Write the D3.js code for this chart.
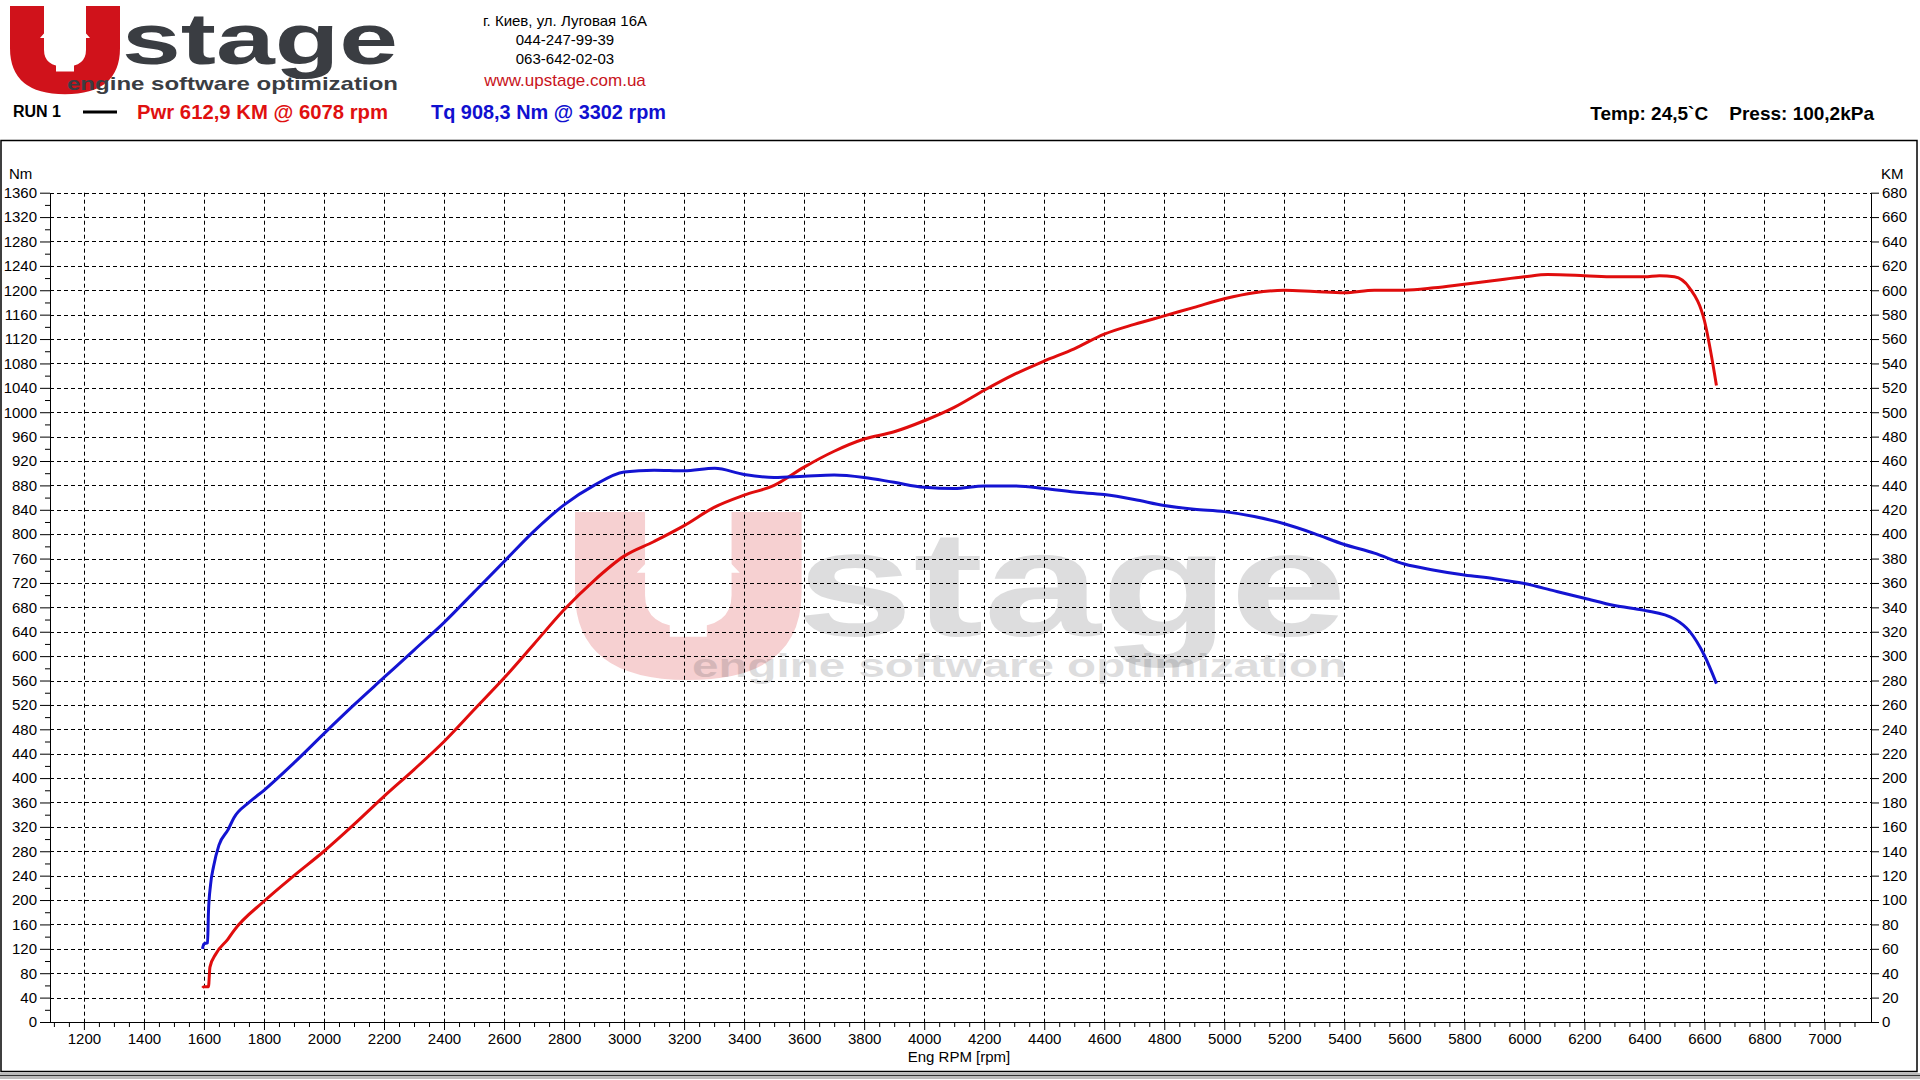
<!DOCTYPE html>
<html><head><meta charset="utf-8">
<script src="https://cdn.jsdelivr.net/npm/d3@7"></script>
<style>body{margin:0;background:#fff}svg{display:block}text{font-family:"Liberation Sans",Arial,sans-serif}</style>
</head><body>
<script>
const rpmTicks = d3.range(1200, 7001, 200);
const nmTicks = d3.range(0, 1361, 40);
const kmTicks = d3.range(0, 681, 20);
const torqueRpm = [1595,1600,1612,1615,1622,1632,1650,1680,1700,1750,1800,1900,2000,2100,2200,2300,2400,2500,2600,2700,2800,2900,3000,3100,3200,3302,3400,3500,3600,3700,3800,3900,4000,4100,4200,4300,4400,4500,4600,4700,4800,4900,5000,5100,5200,5300,5400,5500,5600,5700,5800,5900,6000,6100,6200,6300,6400,6500,6550,6600,6640];
const torqueNm = [120,128,130,180,225,255,290,315,335,360,380,425,473,520,565,610,655,705,755,805,848,880,902,905,904,908,898,893,895,897,893,885,877,875,879,879,875,869,865,857,847,841,837,829,817,801,783,769,751,741,733,727,719,707,695,683,675,661,641,601,555];
const powerRpm = [1595,1600,1615,1620,1640,1680,1700,1800,1900,2000,2100,2200,2300,2400,2500,2600,2700,2800,2900,3000,3100,3200,3300,3400,3500,3600,3700,3800,3900,4000,4100,4200,4300,4400,4500,4600,4700,4800,4900,5000,5100,5200,5300,5400,5500,5600,5700,5800,5900,6000,6078,6200,6300,6400,6450,6500,6550,6600,6640];
const powerKm = [28,29,29,45,56,68,75,99,120,140,162,185,207,230,256,282,310,338,362,382,394,407,422,432,440,455,468,478,484,493,504,518,531,542,552,564,572,579,586,593,598,600,599,598,600,600,602,605,608,611,612.9,612,611,611,612,611,602,575,522];
const addr = ["г. Киев, ул. Луговая 16А","044-247-99-39","063-642-02-03"];

const svg = d3.select("body").append("svg").attr("width",1920).attr("height",1080);
const L=50,R=1871,T=192.7,B=1022;
const x = d3.scaleLinear().domain([1087,7155]).range([L,R]);
const yN = d3.scaleLinear().domain([0,1360]).range([B,T]);
const yK = d3.scaleLinear().domain([0,680]).range([B,T]);

svg.append("rect").attr("x",1).attr("y",140.5).attr("width",1916).attr("height",931).attr("fill","none").attr("stroke","#000").attr("stroke-width",1.5);
svg.append("rect").attr("x",0).attr("y",1073).attr("width",1920).attr("height",6).attr("fill","#bbb");
svg.append("line").attr("x1",0).attr("x2",1920).attr("y1",1075.5).attr("y2",1075.5).attr("stroke","#333");

const Upath="M0,0 H34 V52 Q34,72 55,72 Q76,72 76,52 V0 H110 V50 Q110,105 55,105 Q0,105 0,50 Z";
const Apath="M55,4 L80,38 H64 V78 H46 V38 H30 Z";
function logo(g, ux, uy, usx, usy, sx, sw, sy, fs, ex, ew, ey, efs, op, wop){
  const u=g.append("g").attr("transform",`translate(${ux},${uy}) scale(${usx},${usy})`);
  u.append("path").attr("d",Upath).attr("fill","#d0121b").attr("opacity",op);
  u.append("path").attr("d",Apath).attr("fill","#fff");
  g.append("text").attr("x",sx).attr("y",sy).attr("font-size",fs).attr("font-weight","bold").attr("fill","#3a3d42").attr("opacity",wop).attr("textLength",sw).attr("lengthAdjust","spacingAndGlyphs").text("stage");
  g.append("text").attr("x",ex).attr("y",ey).attr("font-size",efs).attr("font-weight","bold").attr("fill","#3a3d42").attr("opacity",wop).attr("textLength",ew).attr("lengthAdjust","spacingAndGlyphs").text("engine software optimization");
}
logo(svg.append("g"),10,6,1.0,0.84,122,276,64,72,67,331,90,19,1,1);
logo(svg.append("g"),575,512,2.06,1.6,796,551,636,150,692,655,677,34,0.2,0.17);

addr.forEach((t,i)=>svg.append("text").attr("x",565).attr("y",26+i*19).attr("text-anchor","middle").attr("font-size",15).text(t));
svg.append("text").attr("x",565).attr("y",86).attr("text-anchor","middle").attr("font-size",17).attr("fill","#c8141c").text("www.upstage.com.ua");
svg.append("text").attr("x",13).attr("y",117).attr("font-size",16).attr("font-weight","bold").text("RUN 1");
svg.append("line").attr("x1",83).attr("x2",117).attr("y1",112).attr("y2",112).attr("stroke","#000").attr("stroke-width",3);
svg.append("text").attr("x",137).attr("y",119).attr("font-size",21).attr("font-weight","bold").attr("fill","#e01010").attr("textLength",251).attr("lengthAdjust","spacingAndGlyphs").text("Pwr  612,9 KM @ 6078 rpm");
svg.append("text").attr("x",431).attr("y",119).attr("font-size",21).attr("font-weight","bold").attr("fill","#1010d0").attr("textLength",235).attr("lengthAdjust","spacingAndGlyphs").text("Tq 908,3 Nm @ 3302 rpm");
svg.append("text").attr("x",1874).attr("y",120).attr("text-anchor","end").attr("font-size",19).attr("font-weight","bold").attr("xml:space","preserve").text("Temp: 24,5`C    Press: 100,2kPa");

svg.append("g").selectAll("line").data(nmTicks).join("line").attr("x1",L).attr("x2",R).attr("y1",d=>Math.round(yN(d))+.5).attr("y2",d=>Math.round(yN(d))+.5).attr("stroke","#000").attr("stroke-dasharray","4,3");
svg.append("g").selectAll("line").data(rpmTicks).join("line").attr("y1",T).attr("y2",B).attr("x1",d=>Math.round(x(d))+.5).attr("x2",d=>Math.round(x(d))+.5).attr("stroke","#000").attr("stroke-dasharray","4,3");

const f=d3.format("d");
svg.append("g").attr("transform",`translate(${L},0)`).call(d3.axisLeft(yN).tickValues(nmTicks).tickFormat(f).tickSize(10).tickSizeOuter(0));
svg.append("g").attr("transform",`translate(${L},0)`).call(d3.axisLeft(yN).tickValues(d3.range(20,1360,40)).tickSize(5).tickFormat("").tickSizeOuter(0));
svg.append("g").attr("transform",`translate(${R},0)`).call(d3.axisRight(yK).tickValues(kmTicks).tickFormat(f).tickSize(8).tickSizeOuter(0));
svg.append("g").attr("transform",`translate(0,${B})`).call(d3.axisBottom(x).tickValues(rpmTicks).tickFormat(f).tickSize(8).tickSizeOuter(0));
svg.append("g").attr("transform",`translate(0,${B})`).call(d3.axisBottom(x).tickValues(d3.range(1100,7101,50).filter(d=>d%200)).tickSize(5).tickFormat("").tickSizeOuter(0));
svg.selectAll(".tick text").attr("font-size",15).attr("font-family","Liberation Sans, Arial").attr("fill","#000");
svg.selectAll(".domain").attr("stroke","#000");
svg.append("text").attr("x",9).attr("y",179).attr("font-size",15).text("Nm");
svg.append("text").attr("x",1881).attr("y",179).attr("font-size",15).text("KM");
svg.append("text").attr("x",959).attr("y",1062).attr("text-anchor","middle").attr("font-size",15).text("Eng RPM [rpm]");

const lineT = d3.line().x((d,i)=>x(torqueRpm[i])).y(d=>yN(d)).curve(d3.curveMonotoneX);
const lineP = d3.line().x((d,i)=>x(powerRpm[i])).y(d=>yK(d)).curve(d3.curveMonotoneX);
svg.append("path").attr("d",lineP(powerKm)).attr("fill","none").attr("stroke","#e00d0d").attr("stroke-width",3);
svg.append("path").attr("d",lineT(torqueNm)).attr("fill","none").attr("stroke","#1414d2").attr("stroke-width",3);
</script>
</body></html>
